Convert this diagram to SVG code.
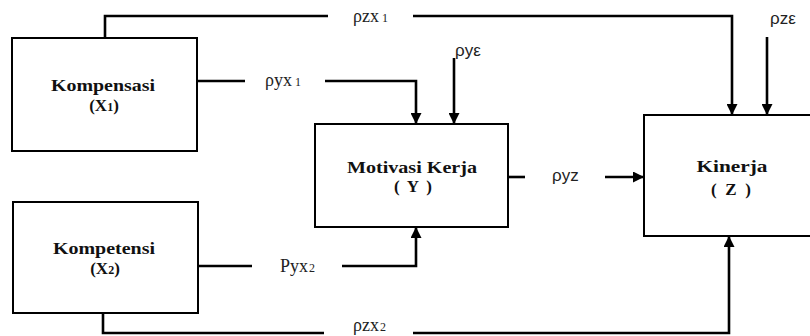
<svg xmlns="http://www.w3.org/2000/svg" width="810" height="336" viewBox="0 0 810 336">
  <defs>
    <marker id="arrow" markerUnits="userSpaceOnUse" markerWidth="11" markerHeight="11" refX="11" refY="5.5" orient="auto">
      <path d="M0,0 L11,5.5 L0,11 z" fill="#000"/>
    </marker>
    <style>
      .box { fill: #fff; stroke: #000; stroke-width: 2; }
      .title { font-family: "Liberation Serif", "Times New Roman", serif; font-weight: bold; font-size: 17px; fill: #111; text-anchor: middle; }
      .wire { fill: none; stroke: #000; stroke-width: 2.6; }
      .lbl { font-family: "Liberation Serif", "Times New Roman", serif; font-size: 18px; fill: #222; }
      .lbls { font-family: "Liberation Sans", Arial, sans-serif; font-size: 17px; fill: #222; }
      .sub { font-size: 12px; }
    </style>
  </defs>
  <rect width="810" height="336" fill="#fff"/>

  <!-- connectors -->
  <g id="connectors">
    <path class="wire" d="M105,38 V16 H328"/>
    <path class="wire" d="M413,16 H732 V115" marker-end="url(#arrow)"/>
    <path class="wire" d="M767,37 V115" marker-end="url(#arrow)"/>
    <path class="wire" d="M454,58 V124" marker-end="url(#arrow)"/>
    <path class="wire" d="M197,81 H245"/>
    <path class="wire" d="M325,81 H416 V124" marker-end="url(#arrow)"/>
    <path class="wire" d="M198,266 H252"/>
    <path class="wire" d="M342,266 H416 V227" marker-end="url(#arrow)"/>
    <path class="wire" d="M103,313 V333 H324"/>
    <path class="wire" d="M413,333 H729 V236" marker-end="url(#arrow)"/>
    <path class="wire" d="M502,177 H525"/>
    <path class="wire" d="M605,177 H644" marker-end="url(#arrow)"/>

    <text class="lbl" x="353" y="22">ρzx<tspan class="sub" dx="3">1</tspan></text>
    <text class="lbls" x="770" y="24">ρzε</text>
    <text class="lbls" x="455" y="56">ρyε</text>
    <text class="lbl" x="265" y="86">ρyx<tspan class="sub" dx="3">1</tspan></text>
    <text class="lbl" x="280" y="272">Pyx<tspan class="sub" dx="1">2</tspan></text>
    <text class="lbl" x="353" y="331">ρzx<tspan class="sub" dx="1">2</tspan></text>
    <text class="lbls" x="552" y="181">ρyz</text>
  </g>

  <!-- nodes -->
  <g id="node-x1">
    <rect class="box" x="12" y="38" width="185" height="113"/>
    <text class="title" x="103" y="91" textLength="104" lengthAdjust="spacingAndGlyphs">Kompensasi</text>
    <text class="title" x="104" y="111">(X<tspan font-size="12">1</tspan>)</text>
  </g>
  <g id="node-x2">
    <rect class="box" x="13" y="202" width="185" height="111"/>
    <text class="title" x="104" y="254" textLength="102" lengthAdjust="spacingAndGlyphs">Kompetensi</text>
    <text class="title" x="105" y="274">(X<tspan font-size="12">2</tspan>)</text>
  </g>
  <g id="node-y">
    <rect class="box" x="315" y="124" width="193" height="103"/>
    <text class="title" x="412" y="173" textLength="130" lengthAdjust="spacingAndGlyphs">Motivasi Kerja</text>
    <text class="title" x="413" y="192" textLength="38" lengthAdjust="spacing">( Y )</text>
  </g>
  <g id="node-z">
    <rect class="box" x="644" y="115" width="172" height="121"/>
    <text class="title" x="732" y="172" textLength="71" lengthAdjust="spacingAndGlyphs">Kinerja</text>
    <text class="title" x="731" y="195" textLength="40" lengthAdjust="spacing">( Z )</text>
  </g>
</svg>
